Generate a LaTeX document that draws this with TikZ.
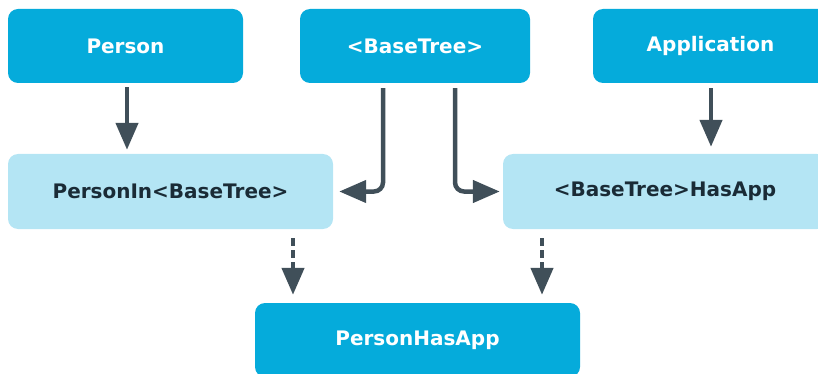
\documentclass[tikz,border=0pt]{standalone}
\usepackage{fontspec}
\setmainfont{DejaVu Sans}
\usetikzlibrary{arrows.meta}
\definecolor{darkbox}{HTML}{05ABDB}
\definecolor{lightbox}{HTML}{B4E5F4}
\definecolor{arrowcol}{HTML}{404F59}
\definecolor{darktext}{HTML}{1A2B36}
\tikzset{
  dbox/.style={fill=darkbox, rounded corners=10pt, text=white, font=\fontsize{20}{23}\selectfont\bfseries, inner sep=0pt, minimum height=74pt},
  lbox/.style={fill=lightbox, rounded corners=10pt, text=darktext, font=\fontsize{20}{23}\selectfont\bfseries, inner sep=0pt, minimum height=75pt},
  conn/.style={draw=arrowcol, line width=4.5pt, -{Triangle[width=22pt,length=27pt]}, arrowcol},
  dconn/.style={conn, dash pattern=on 8pt off 4pt},
}
\begin{document}
\begin{tikzpicture}[x=1pt,y=-1pt]
\useasboundingbox (0,0) rectangle (818,374);
\node[dbox, minimum width=235pt] (person) at (125.5,46) {Person};
\node[dbox, minimum width=230pt] (base) at (415,46) {<BaseTree>};
\node[dbox, minimum width=235pt] (app) at (710.5,46) {Application};
\node[lbox, minimum width=325pt] (pin) at (170.5,191.5) {PersonIn<BaseTree>};
\node[lbox, minimum width=324pt] (has) at (665,191.5) {<BaseTree>HasApp};
\node[dbox, minimum width=325pt] (pha) at (417.5,340) {PersonHasApp};

\draw[conn, shorten <=4pt, shorten >=4pt] ([xshift=1.5pt]person.south) -- ([xshift=1.5pt]person.south |- pin.north);
\draw[conn, shorten <=5pt, shorten >=7pt] ([xshift=0.5pt]app.south) -- ([xshift=0.5pt]app.south |- has.north);
\draw[conn, rounded corners=9pt, shorten <=5pt, shorten >=6pt] ([xshift=-32pt]base.south) |- (pin.east);
\draw[conn, rounded corners=9pt, shorten <=5pt, shorten >=3pt] ([xshift=40pt]base.south) |- (has.west);
\draw[dconn, shorten <=9pt, shorten >=8pt] ([xshift=122.5pt]pin.south) -- ([xshift=122.5pt]pin.south |- pha.north);
\draw[dconn, shorten <=9pt, shorten >=8pt] ([xshift=-123pt]has.south) -- ([xshift=-123pt]has.south |- pha.north);
\end{tikzpicture}
\end{document}
